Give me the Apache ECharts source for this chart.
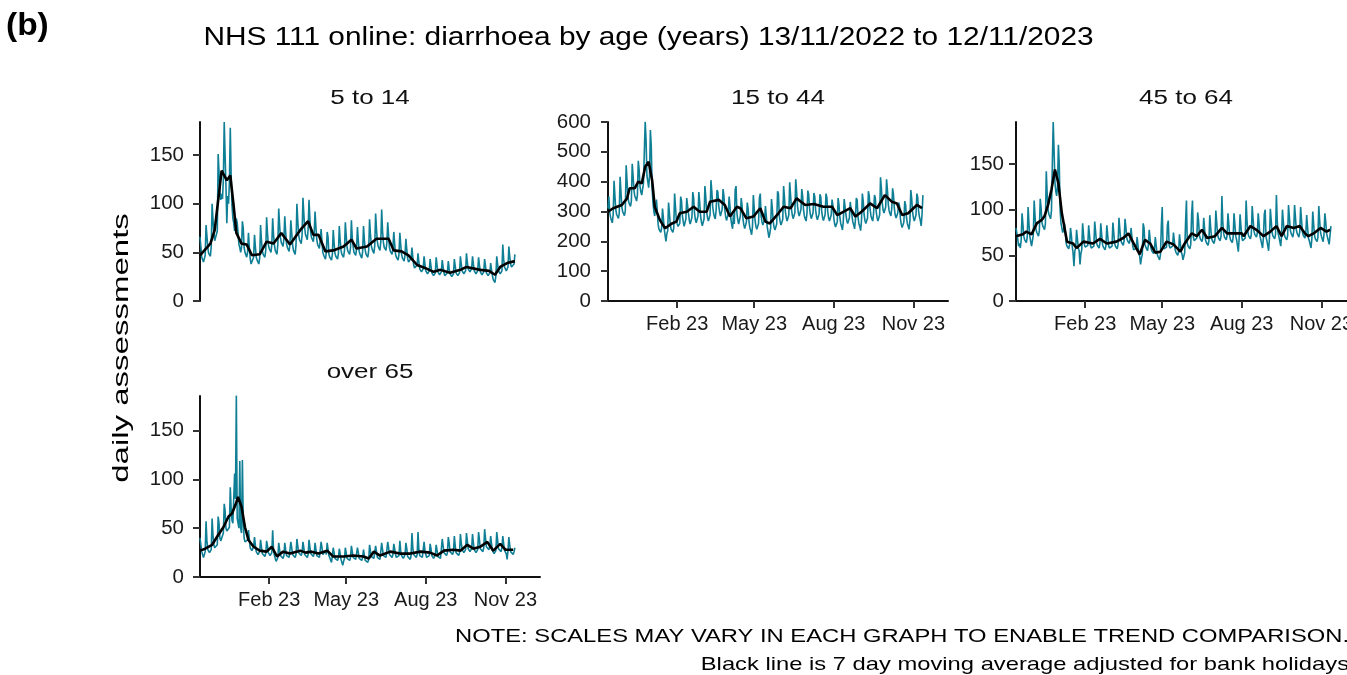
<!DOCTYPE html>
<html><head><meta charset="utf-8">
<script src="https://cdn.jsdelivr.net/npm/echarts@6/dist/echarts.min.js"></script>
<style>html,body{margin:0;padding:0;background:#fff}#c{width:1347px;height:675px}</style>
</head><body><div id="c"></div>
<script>
// ---- data (daily values from 13/11/2022, day 0 = Sunday 13 Nov 2022) ----
const panelTitles = ['5 to 14', '15 to 44', '45 to 64', 'over 65'];
const xTickDays = [80, 169, 261, 353];            // 1 Feb, 1 May, 1 Aug, 1 Nov 2023
const xTickLabels = ['Feb 23', 'May 23', 'Aug 23', 'Nov 23'];
const yTicksSmall = [0, 50, 100, 150];
const yTicksLarge = [0, 100, 200, 300, 400, 500, 600];

const daily5to14 = [
66,56,45,43,40,38,47, 78,67,55,49,50,46,56, 100,84,70,62,63,60,72, 151,132,112,104,110,105,125,
184,150,118,80,108,100,122, 178,130,98,85,80,72,78, 85,80,70,58,55,50,55, 82,75,55,50,48,45,50,
70,55,44,38,39,36,45, 68,56,45,42,40,38,44, 78,63,52,48,47,45,52, 86,70,58,54,52,50,58,
85,68,58,52,50,48,59, 95,78,65,60,58,56,64, 87,71,59,55,53,51,59, 83,70,58,52,52,48,58,
100,83,68,63,61,59,68, 106,90,75,68,67,63,74, 104,85,70,65,63,61,70, 92,76,63,58,56,54,63,
74,61,50,47,45,43,50, 71,66,48,45,43,42,48, 73,60,49,46,44,43,49, 77,63,52,48,47,45,52,
81,67,55,51,49,48,55, 83,65,56,50,50,47,54, 76,62,51,48,46,44,51, 77,63,52,48,47,45,52,
84,69,57,53,51,49,57, 90,74,61,56,54,52,61, 94,72,60,55,54,52,60, 81,67,55,51,49,48,55,
71,59,48,45,43,42,48, 70,58,48,44,43,41,48, 64,53,44,40,39,38,44, 55,45,37,34,33,32,37,
49,40,33,31,30,29,33, 46,38,31,29,28,27,31, 43,36,29,27,26,25,29, 45,37,30,28,27,26,30,
42,35,29,26,26,25,29, 41,33,28,26,25,24,28, 43,36,29,27,26,25,29, 46,38,31,29,28,27,31,
49,40,33,31,30,29,33, 46,38,31,29,28,27,31, 45,37,30,28,27,26,30, 43,36,29,27,26,25,29,
39,32,26,22,20,19,26, 46,38,31,29,28,27,31, 58,43,35,33,31,30,35, 56,46,38,35,34,33,38,
48];
const daily15to44 = [
310,350,296,281,270,262,290, 403,353,306,290,284,277,293, 416,364,315,299,293,286,302, 455,403,349,331,324,317,335,
460,420,370,352,345,335,355, 470,440,385,365,355,350,395, 500,601,540,420,400,380,420, 573,520,380,330,300,285,290,
340,300,255,240,235,230,245, 310,280,242,220,200,225,235, 330,295,255,240,236,230,245, 360,315,272,258,250,245,260,
350,335,285,265,250,250,275, 345,340,295,270,258,255,280, 365,345,295,272,262,258,285, 365,330,285,265,252,250,275,
385,350,300,280,268,262,288, 405,368,318,295,282,275,305, 372,365,320,298,285,280,308, 375,352,305,283,270,266,292,
350,318,275,255,242,290,258, 372,385,295,272,258,252,285, 345,318,275,255,243,238,265, 330,308,265,245,235,222,250,
355,350,270,250,240,236,260, 345,360,285,265,255,250,275, 318,312,250,232,212,225,245, 342,308,265,247,238,232,258,
368,360,286,265,255,250,274, 385,346,300,280,268,262,288, 398,356,310,288,276,270,296, 408,368,320,296,285,280,306,
375,352,306,285,275,268,294, 370,356,310,288,276,272,296, 362,350,305,283,272,268,292, 358,348,302,280,270,265,290,
360,346,300,278,268,262,288, 340,320,278,258,248,245,266, 345,322,280,260,250,238,268, 342,345,290,270,260,255,278,
332,328,286,265,255,242,272, 345,338,280,260,250,236,268, 360,335,290,270,260,255,278, 368,352,306,285,275,268,294,
355,345,300,280,268,262,288, 415,378,328,305,295,290,315, 408,372,324,302,292,285,310, 378,356,310,288,278,272,296,
330,318,276,256,246,242,265, 335,322,280,260,250,240,270, 372,345,300,280,268,262,288, 360,348,302,282,270,252,290,
355];
const daily45to64 = [
80,82,68,60,63,58,67, 96,84,71,67,66,64,70, 103,84,71,65,60,58,72, 110,93,79,75,73,71,77,
112,102,86,82,80,78,85, 142,118,100,95,93,90,99, 150,196,165,130,120,115,125, 171,150,100,85,80,75,78,
85,75,63,60,59,57,62, 80,72,60,52,38,55,58, 78,68,58,55,40,52,56, 85,73,62,59,58,57,61,
83,72,61,58,57,56,60, 87,76,64,61,60,58,63, 85,73,62,59,58,56,61, 83,72,61,58,57,56,60,
86,75,63,60,59,57,62, 91,79,67,64,62,61,66, 90,81,69,66,64,63,68, 80,70,60,56,55,54,58,
70,61,52,49,40,47,51, 85,80,62,59,58,55,61, 78,68,58,55,53,52,56, 70,61,52,49,48,45,51,
82,103,60,57,56,55,59, 83,88,61,58,57,56,60, 75,66,56,53,52,50,55, 73,63,54,51,45,49,53,
86,110,63,60,59,57,62, 95,110,70,66,65,64,69, 97,88,72,68,67,65,70, 91,79,67,64,62,61,66,
94,81,69,66,64,63,68, 99,86,73,69,68,66,71, 115,87,74,70,69,67,72, 96,84,71,67,66,64,70,
96,84,71,67,66,54,70, 95,82,70,66,65,64,69, 110,88,75,71,69,68,73, 104,90,77,73,71,70,75,
96,84,71,67,66,58,70, 95,100,70,66,65,55,69, 101,88,75,71,69,68,73, 116,87,74,70,69,60,72,
100,87,74,70,69,67,72, 105,92,78,74,72,70,76, 105,92,78,74,72,70,76, 103,89,76,72,70,69,74,
94,81,69,66,64,58,68, 98,85,72,68,67,65,70, 104,88,75,71,69,65,73, 96,87,74,70,69,62,72,
82];
const dailyOver65 = [
40,33,26,24,20,22,26, 57,37,28,26,25,24,28, 60,43,33,30,29,28,33, 62,55,40,37,36,35,45,
75,68,50,47,46,45,51, 92,70,58,55,54,106,80, 186,60,55,50,119,50,45, 120,55,40,36,35,34,38,
48,39,30,28,27,26,31, 41,33,26,24,23,23,26, 38,31,24,22,22,21,24, 37,32,25,23,22,20,25,
48,28,22,20,16,15,20, 35,28,22,21,20,19,22, 35,28,22,21,20,20,22, 36,30,23,22,21,20,23,
39,32,25,23,23,22,25, 36,30,23,22,21,20,23, 38,31,24,22,22,21,24, 35,28,22,21,20,20,22,
36,30,23,22,21,27,23, 35,33,22,21,20,15,22, 30,25,19,18,18,17,20, 29,24,18,17,12,16,19,
30,28,19,18,18,17,20, 32,30,20,19,18,18,20, 30,25,19,18,18,17,20, 28,22,17,16,16,15,18,
33,32,21,20,19,19,21, 32,26,20,19,18,18,20, 35,28,22,21,20,20,22, 36,30,23,22,21,20,23,
34,29,23,20,21,19,22, 37,27,22,22,19,20,23, 35,29,21,21,20,18,22, 45,30,23,22,21,20,23,
46,28,22,21,20,20,22, 36,27,23,20,21,19,22, 34,29,22,22,19,20,23, 33,27,21,20,19,19,21,
39,32,25,23,23,22,25, 41,35,26,24,24,23,26, 42,32,25,23,23,22,25, 44,35,28,26,25,25,28,
45,37,29,27,26,25,29, 44,35,28,26,25,25,28, 46,38,29,28,27,26,30, 49,40,31,29,29,28,32,
42,34,27,25,24,24,27, 46,38,29,28,27,26,30, 42,34,27,25,24,18,27, 41,33,26,24,24,23,26,
30];

// black line (7 day moving average) read at these days
const ma5to14Days = [0,12,17,25,31,35,39,42,48,54,60,69,77,85,94,104,116,125,131,137,145,154,166,175,181,193,204,218,224,233,241,251,260,270,278,289,301,308,324,334,341,347,355,364];
const ma5to14Vals = [47,59,73,134,124,129,97,70,59,58,47,48,61,59,70,58,73,82,68,68,51,52,56,63,54,56,64,64,52,51,47,37,34,30,32,29,32,35,32,31,27,35,39,41];
const ma15to44Days = [0,6,16,22,25,31,35,39,43,47,51,54,60,66,74,79,83,91,99,106,114,118,128,135,141,149,153,160,168,176,182,187,197,203,211,218,228,238,249,259,265,272,280,286,293,303,311,320,328,334,340,347,353,357,363];
const ma15to44Vals = [299,311,322,344,378,378,400,394,450,467,405,316,271,244,260,266,294,299,316,299,299,333,339,322,283,316,311,277,283,311,266,260,294,316,311,344,322,325,316,316,288,299,311,283,299,327,311,355,333,327,288,294,311,322,311];
const ma45to64Days = [0,8,12,18,24,30,33,37,41,45,49,53,59,66,70,78,89,97,105,116,124,130,136,143,149,155,161,167,174,182,190,195,203,209,215,221,230,238,244,253,261,263,271,278,286,294,301,307,313,321,328,334,338,344,352,359,363];
const ma45to64Vals = [71,73,76,73,85,89,93,105,122,144,129,96,65,63,58,65,63,68,63,65,69,74,63,51,67,63,53,54,65,62,54,63,74,71,78,69,71,80,74,74,74,71,82,78,71,76,82,71,82,80,82,74,71,74,80,76,78];
const maOver65Days = [0,6,14,21,27,33,37,41,44,48,52,56,62,69,77,83,89,96,104,116,122,129,137,147,154,166,177,189,195,201,208,220,231,243,255,266,274,282,293,301,309,316,324,332,339,347,353,362];
const maOver65Vals = [27,29,33,43,51,62,65,74,82,72,51,38,31,27,26,31,21,26,24,27,25,26,24,27,21,21,22,21,19,26,22,26,24,24,26,25,22,27,28,27,33,29,31,36,27,34,28,28];

// ---- chart ----
const FONT = '"Liberation Sans", Arial, sans-serif';
const TEAL = '#0f7f96';
const panels = [
  {title: panelTitles[0], daily: daily5to14, maD: ma5to14Days, maV: ma5to14Vals, left: 200, top: 122, height: 179, max: 184, ticks: yTicksSmall, showX: false, lm: 16},
  {title: panelTitles[1], daily: daily15to44, maD: ma15to44Days, maV: ma15to44Vals, left: 608, top: 122, height: 179, max: 600, ticks: yTicksLarge, showX: true, lm: 17},
  {title: panelTitles[2], daily: daily45to64, maD: ma45to64Days, maV: ma45to64Vals, left: 1016, top: 122, height: 179, max: 196, ticks: yTicksSmall, showX: true, lm: 12},
  {title: panelTitles[3], daily: dailyOver65, maD: maOver65Days, maV: maOver65Vals, left: 200, top: 396, height: 181, max: 185.5, ticks: yTicksSmall, showX: true, lm: 16}
];

const grids = [], xAxes = [], yAxes = [], series = [], graphics = [];
panels.forEach((p, i) => {
  grids.push({left: p.left, top: p.top, width: 340, height: p.height, containLabel: false, outerBoundsMode: 'none'});
  xAxes.push({
    type: 'value', gridIndex: i, min: 0, max: 393, show: p.showX,
    axisLine: {show: true, onZero: false, lineStyle: {color: '#111', width: 2}},
    axisTick: {show: true, length: 7, customValues: xTickDays, lineStyle: {color: '#333', width: 2}},
    axisLabel: {customValues: xTickDays, margin: 13, fontSize: 20, fontFamily: FONT, color: '#1a1a1a',
      formatter: v => xTickLabels[xTickDays.indexOf(v)] || ''},
    splitLine: {show: false}
  });
  yAxes.push({
    type: 'value', gridIndex: i, min: 0, max: p.max,
    axisLine: {show: true, lineStyle: {color: '#111', width: 2}},
    axisTick: {show: true, length: 7, customValues: p.ticks, lineStyle: {color: '#333', width: 2}},
    axisLabel: {customValues: p.ticks, margin: p.lm, fontSize: 20.5, fontFamily: FONT, color: '#1a1a1a'},
    splitLine: {show: false}
  });
  series.push({
    type: 'line', xAxisIndex: i, yAxisIndex: i, showSymbol: false, symbol: 'none', silent: true,
    lineStyle: {color: TEAL, width: 1.6}, itemStyle: {color: TEAL},
    data: p.daily.map((v, d) => [d, v]), z: 2
  });
  series.push({
    type: 'line', xAxisIndex: i, yAxisIndex: i, showSymbol: false, symbol: 'none', silent: true,
    lineStyle: {color: '#000', width: 2.6}, itemStyle: {color: '#000'},
    data: p.maD.map((d, k) => [d, p.maV[k]]), z: 3
  });
  graphics.push({
    type: 'text', x: p.left + 170, y: p.top - 24, scaleX: 1.3,
    style: {text: p.title, fontSize: 20, fontFamily: FONT, fill: '#111',
      textAlign: 'center', align: 'center', textVerticalAlign: 'middle', verticalAlign: 'middle'}
  });
});

function txt(text, x, y, size, sx, align, extra) {
  return Object.assign({
    type: 'text', x: x, y: y, scaleX: sx,
    style: {text: text, fontSize: size, fontFamily: FONT, fill: '#000',
      textAlign: align, align: align, textVerticalAlign: 'middle', verticalAlign: 'middle'}
  }, extra || {});
}
graphics.push(txt('(b)', 6, 26, 31, 1.08, 'left'));
graphics[graphics.length - 1].style.fontWeight = 'bold';
graphics.push(txt('NHS 111 online: diarrhoea by age (years) 13/11/2022 to 12/11/2023', 648.5, 38, 25.5, 1.17, 'center'));
graphics.push(txt('daily assessments', 122, 348, 22, 1.5, 'center', {rotation: Math.PI / 2}));
graphics.push(txt('NOTE: SCALES MAY VARY IN EACH GRAPH TO ENABLE TREND COMPARISON.', 1349, 637, 19, 1.25, 'right'));
graphics.push(txt('Black line is 7 day moving average adjusted for bank holidays', 1349, 665, 19, 1.25, 'right'));

const chart = echarts.init(document.getElementById('c'), null, {renderer: 'canvas'});
chart.setOption({
  animation: false,
  backgroundColor: '#ffffff',
  grid: grids, xAxis: xAxes, yAxis: yAxes, series: series, graphic: graphics
});
</script>
</body></html>
